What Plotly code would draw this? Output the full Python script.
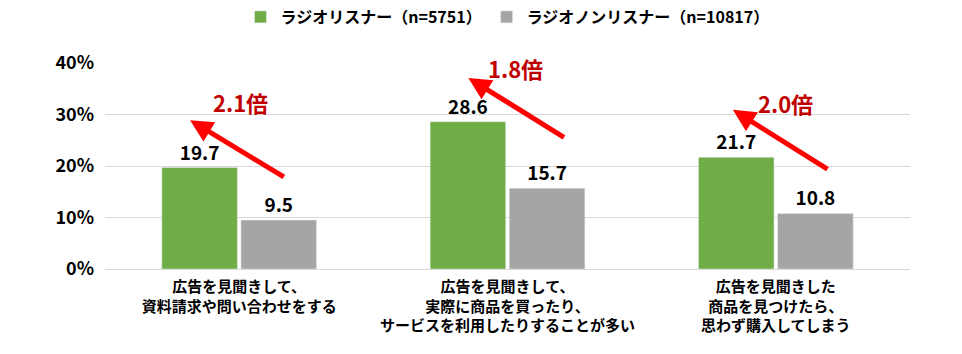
import plotly.graph_objects as go

categories = ["広告を見聞きして、<br>資料請求や問い合わせをする",
              "広告を見聞きして、<br>実際に商品を買ったり、<br>サービスを利用したりすることが多い",
              "広告を見聞きした<br>商品を見つけたら、<br>思わず購入してしまう"]
listeners = [19.7, 28.6, 21.7]
non_listeners = [9.5, 15.7, 10.8]
series_names = ["ラジオリスナー（n=5751）", "ラジオノンリスナー（n=10817）"]
ratio_labels = ["2.1倍", "1.8倍", "2.0倍"]
y_ticks = [0, 10, 20, 30, 40]
y_tick_labels = ["0%", "10%", "20%", "30%", "40%"]

FONT = "Noto Sans CJK JP"
fig = go.Figure()
fig.add_trace(go.Bar(x=categories, y=listeners, name=series_names[0],
                     marker_color="#70AD47",
                     text=[f"{v:.1f}" for v in listeners], textposition="outside",
                     textfont=dict(size=19, color="black", family=FONT, weight="bold"),
                     cliponaxis=False))
fig.add_trace(go.Bar(x=categories, y=non_listeners, name=series_names[1],
                     marker_color="#A5A5A5",
                     text=[f"{v:.1f}" for v in non_listeners], textposition="outside",
                     textfont=dict(size=19, color="black", family=FONT, weight="bold"),
                     cliponaxis=False))

# arrows and ratio labels (positions relative to category index)
arrow_tail = [(0.172, 17.7), (1.216, 25.4), (2.198, 19.2)]
arrow_head = [(-0.183, 28.9), (0.854, 37.1), (1.840, 30.9)]
label_pos = [(0.004, 32.4), (1.03, 39.0), (2.037, 32.2)]
for i in range(3):
    fig.add_annotation(x=arrow_head[i][0], y=arrow_head[i][1], ax=arrow_tail[i][0], ay=arrow_tail[i][1],
                       xref="x", yref="y", axref="x", ayref="y", text="", showarrow=True,
                       arrowhead=2, arrowsize=0.9, arrowwidth=5, arrowcolor="#FF0000")
    fig.add_annotation(x=label_pos[i][0], y=label_pos[i][1], xref="x", yref="y",
                       text=ratio_labels[i], showarrow=False,
                       font=dict(size=22, color="#C00000", family=FONT, weight="bold"))

fig.update_layout(
    width=962, height=354,
    margin=dict(l=105, r=52, t=63, b=85),
    paper_bgcolor="white", plot_bgcolor="white",
    barmode="group", bargap=0.41, bargroupgap=0.045,
    font=dict(family=FONT, color="black"),
    legend=dict(orientation="h", x=0.5, xanchor="center", xref="paper", y=1.0, yref="container",
                yanchor="top", font=dict(size=16, family=FONT, weight="bold"),
                itemwidth=30, traceorder="normal"),
    showlegend=True,
)
fig.update_yaxes(range=[0, 40], tickvals=y_ticks, ticktext=y_tick_labels,
                 showgrid=True, gridcolor="#D9D9D9", gridwidth=1, zeroline=False,
                 tickfont=dict(size=18, family=FONT, weight="bold"), ticks="", ticklen=0,
                 ticklabelstandoff=10)
fig.update_xaxes(showline=True, linecolor="#D9D9D9", linewidth=1,
                 tickfont=dict(size=15, family=FONT, weight="bold"), ticks="",
                 ticklabelstandoff=4)
fig.write_html("out.html")
